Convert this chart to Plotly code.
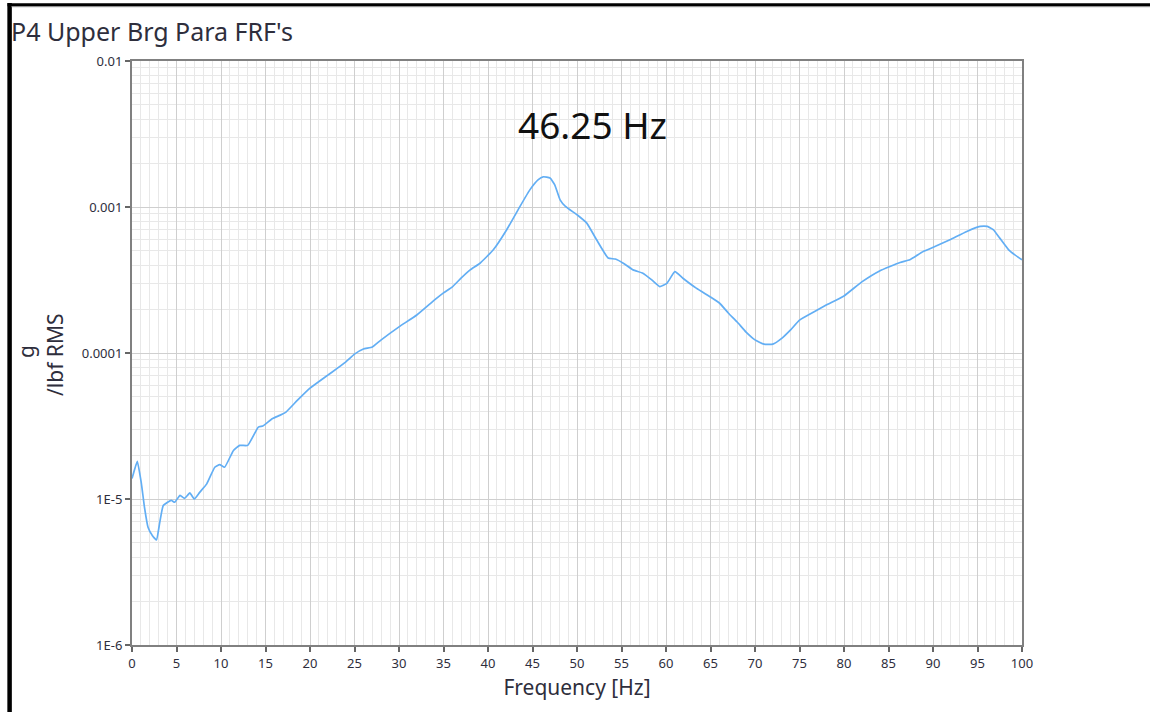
import plotly.graph_objects as go

# ---- data ----
freq_hz = [0.0, 0.3, 0.6, 1.05, 1.4, 1.8, 2.3, 2.75, 3.1, 3.5, 4.0, 4.4, 4.8, 5.4, 5.9,
           6.5, 7.0, 7.6, 8.4, 9.3, 9.85, 10.4, 11.4, 12.1, 13.0, 14.2, 14.7, 15.8, 16.6,
           17.3, 18.6, 20, 22, 24, 25, 26, 27, 28, 30, 32, 34, 35, 36, 37, 38, 39.1, 40.6,
           42.1, 43.6, 44.7, 45.65, 46.2, 46.97, 47.5, 48.1, 48.7, 50.0, 51.1, 52.2, 53.5,
           54.3, 55.2, 56.3, 57.4, 58.4, 59.3, 60.1, 61.0, 61.9, 63.4, 65, 66, 67, 68, 69,
           70, 71, 72, 73, 74, 75, 77, 78, 80, 82, 84, 86.3, 87.4, 88.9, 90.4, 91.9, 93.8,
           95.3, 96.1, 96.8, 97.5, 98.5, 99.2, 100]
frf_g_per_lbf = [1.38e-5, 1.6e-5, 1.81e-5, 1.28e-5, 8.8e-6, 6.4e-6, 5.6e-6, 5.25e-6, 6.8e-6,
                 9.0e-6, 9.5e-6, 9.8e-6, 9.5e-6, 1.06e-5, 1.01e-5, 1.10e-5, 1.0e-5, 1.11e-5,
                 1.27e-5, 1.65e-5, 1.72e-5, 1.65e-5, 2.15e-5, 2.33e-5, 2.33e-5, 3.11e-5,
                 3.16e-5, 3.56e-5, 3.74e-5, 3.94e-5, 4.75e-5, 5.74e-5, 7.05e-5, 8.66e-5,
                 9.82e-5, 1.064e-4, 1.10e-4, 1.23e-4, 1.51e-4, 1.82e-4, 2.31e-4, 2.58e-4,
                 2.84e-4, 3.27e-4, 3.71e-4, 4.12e-4, 5.09e-4, 6.98e-4, 1.01e-3, 1.31e-3,
                 1.54e-3, 1.61e-3, 1.58e-3, 1.42e-3, 1.12e-3, 1.01e-3, 8.85e-4, 7.76e-4,
                 5.96e-4, 4.47e-4, 4.4e-4, 4.12e-4, 3.71e-4, 3.52e-4, 3.17e-4, 2.85e-4,
                 3.0e-4, 3.61e-4, 3.25e-4, 2.78e-4, 2.42e-4, 2.2e-4, 1.88e-4, 1.63e-4,
                 1.39e-4, 1.23e-4, 1.15e-4, 1.15e-4, 1.26e-4, 1.44e-4, 1.68e-4, 1.97e-4,
                 2.13e-4, 2.46e-4, 3.07e-4, 3.65e-4, 4.17e-4, 4.35e-4, 4.95e-4, 5.42e-4,
                 5.96e-4, 6.8e-4, 7.36e-4, 7.36e-4, 6.98e-4, 6.12e-4, 5.09e-4, 4.7e-4, 4.35e-4]

x_ticks = list(range(0, 101, 5))
y_tick_vals = [1e-6, 1e-5, 1e-4, 1e-3, 1e-2]
y_tick_text = ["1E-6", "1E-5", "0.0001", "0.001", "0.01"]
y_minor_vals = [m * 10.0 ** e for e in range(-6, -2) for m in range(2, 10)]
x_minor_vals = [v for v in range(0, 101) if v % 5 != 0]

title_text = "P4 Upper Brg Para FRF's"
y_title_lines = ["g", "/lbf RMS"]
peak_label = "46.25 Hz"
label_freq = 51.7

FONT = "Noto Sans"
TXT = "#2e2e3c"

fig = go.Figure()
fig.add_trace(go.Scatter(x=freq_hz, y=frf_g_per_lbf, mode="lines",
                         line=dict(color="#62aef4", width=1.7, shape="spline", smoothing=0.4),
                         showlegend=False, hoverinfo="x+y"))

fig.update_layout(
    width=1150, height=712,
    margin=dict(l=132, r=128, t=61, b=67, autoexpand=False),
    paper_bgcolor="white", plot_bgcolor="white",
    font=dict(family=FONT, color=TXT, size=13),
    title=dict(text=title_text, x=11 / 1150, xanchor="left", y=1 - 32 / 712, yanchor="middle",
               font=dict(family=FONT, size=25, color=TXT)),
)

fig.update_xaxes(
    range=[0, 100], tickmode="array", tickvals=x_ticks,
    ticks="outside", ticklen=5, tickwidth=2, tickcolor="#666666",
    showline=True, linecolor="#808080", linewidth=2, mirror=True,
    showgrid=True, gridcolor="#cfcfcf", gridwidth=1,
    minor=dict(tickmode="array", tickvals=x_minor_vals, showgrid=True,
               gridcolor="#e8e8e8", gridwidth=1, ticks=""),
    zeroline=False,
    tickfont=dict(family=FONT, size=13, color=TXT),
    title=dict(text="Frequency [Hz]", font=dict(family=FONT, size=21, color=TXT), standoff=10),
)
fig.update_yaxes(
    type="log", range=[-6, -2], tickmode="array", tickvals=y_tick_vals, ticktext=y_tick_text,
    ticks="outside", ticklen=5, tickwidth=2, tickcolor="#666666",
    showline=True, linecolor="#808080", linewidth=2, mirror=True,
    showgrid=True, gridcolor="#cfcfcf", gridwidth=1,
    minor=dict(tickmode="array", tickvals=y_minor_vals, showgrid=True,
               gridcolor="#e8e8e8", gridwidth=1, ticks=""),
    zeroline=False,
    tickfont=dict(family=FONT, size=13, color=TXT),
)

W, H = 890.0, 584.0
def px_x(p):
    return (p - 132) / W
def px_y(p):
    return (645 - p) / H

# y-axis title as two rotated lines (tight spacing like the original)
for txt, xc, yc in zip(y_title_lines, [26, 55], [352, 355]):
    fig.add_annotation(x=px_x(xc), xref="paper", y=px_y(yc), yref="paper",
                       xanchor="center", yanchor="middle", textangle=-90,
                       text=txt, showarrow=False,
                       font=dict(family=FONT, size=21, color=TXT))

fig.add_annotation(x=label_freq, xref="x", y=px_y(124), yref="paper",
                   xanchor="center", yanchor="middle",
                   text=peak_label, showarrow=False,
                   font=dict(family=FONT, size=37, color="#111111"))

# black frame of the original screenshot (top and left edges)
fig.add_shape(type="line", xref="paper", yref="paper",
              x0=px_x(9.6), x1=px_x(9.6), y0=px_y(3), y1=px_y(712),
              line=dict(color="black", width=4.5))
fig.add_shape(type="line", xref="paper", yref="paper",
              x0=px_x(7.5), x1=px_x(1150), y0=px_y(4.7), y1=px_y(4.7),
              line=dict(color="black", width=3))
fig.add_shape(type="line", xref="paper", yref="paper",
              x0=px_x(11.5), x1=px_x(1150), y0=px_y(6.7), y1=px_y(6.7),
              line=dict(color="#888888", width=1))

fig.write_html("out.html", config={"displayModeBar": False},
               post_script="document.body.style.margin='0px';document.body.style.overflow='hidden';")
